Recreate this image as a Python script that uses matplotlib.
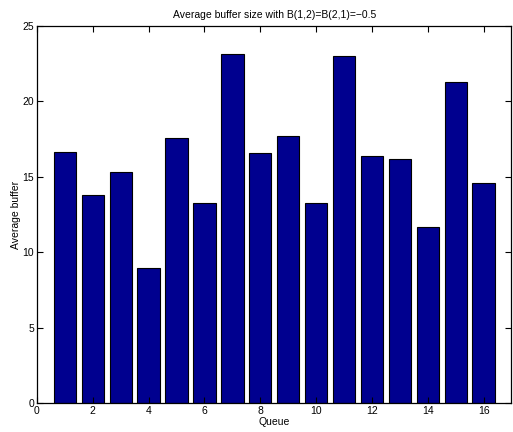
import numpy as np
import matplotlib.pyplot as plt

plt.rcParams['font.family'] = ['Liberation Sans', 'DejaVu Sans']

# queue index and average buffer
queues = np.arange(1, 17)
avg_buffer = [16.64, 13.77, 15.30, 8.93, 17.55, 13.24, 23.12, 16.56,
              17.69, 13.28, 23.03, 16.38, 16.16, 11.65, 21.31, 14.57]
x_ticks = [0, 2, 4, 6, 8, 10, 12, 14, 16]
y_ticks = [0, 5, 10, 15, 20, 25]

fig = plt.figure(figsize=(5.13, 4.32), dpi=100)
ax = fig.add_axes([37 / 513, 1 - 403 / 432, (511.5 - 37) / 513, (403 - 26) / 432])

ax.bar(queues, avg_buffer, width=0.8, color=(0, 0, 0.5625),
       edgecolor='black', linewidth=0.8)

ax.set_xlim(0, 17)
ax.set_ylim(0, 25)
ax.set_xticks(x_ticks)
ax.set_yticks(y_ticks)
ax.tick_params(direction='in', top=True, right=True, labelsize=7.5,
               length=4, width=0.8, pad=2)
for s in ax.spines.values():
    s.set_linewidth(0.9)

ax.set_title('Average buffer size with B(1,2)=B(2,1)=\u22120.5', fontsize=7.5, pad=6)
ax.set_xlabel('Queue', fontsize=7.5, labelpad=1)
ax.set_ylabel('Average buffer', fontsize=7.5, labelpad=1)

fig.savefig('out.png', dpi=100)
